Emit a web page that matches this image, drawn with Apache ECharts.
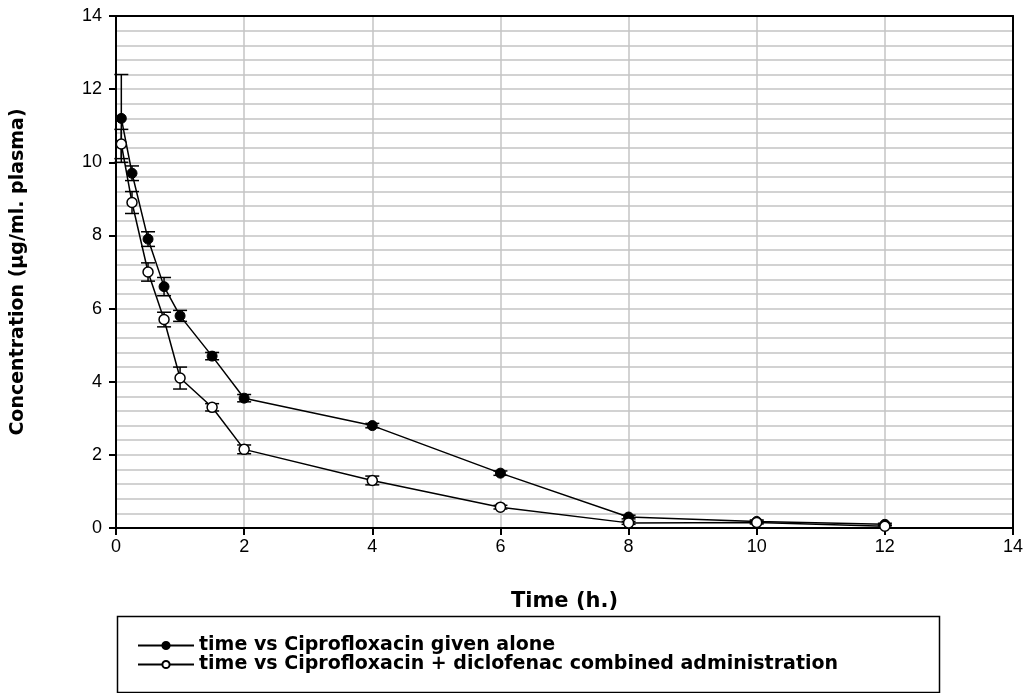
<!DOCTYPE html>
<html>
<head>
<meta charset="utf-8">
<script src="https://cdn.jsdelivr.net/npm/echarts@6/dist/echarts.min.js"></script>
<style>html,body{margin:0;padding:0;background:#fff;}#c{width:1035px;height:693px;}</style>
</head>
<body>
<div id="c"></div>
<script>
var times = [0.083, 0.25, 0.5, 0.75, 1, 1.5, 2, 4, 6, 8, 10, 12];
var aloneMean = [11.2, 9.7, 7.9, 6.6, 5.8, 4.7, 3.55, 2.8, 1.5, 0.3, 0.18, 0.1];
var aloneErr  = [1.2, 0.2, 0.2, 0.25, 0.15, 0.1, 0.1, 0.06, 0.06, 0.05, 0.04, 0.03];
var comboMean = [10.5, 8.9, 7.0, 5.7, 4.1, 3.3, 2.15, 1.3, 0.57, 0.14, 0.15, 0.05];
var comboErr  = [0.4, 0.3, 0.25, 0.2, 0.3, 0.1, 0.12, 0.12, 0.05, 0.04, 0.04, 0.03];
var nameAlone = 'time vs Ciprofloxacin given alone';
var nameCombo = 'time vs Ciprofloxacin + diclofenac combined administration';

function pairs(xs, ys){ return xs.map(function(x,i){ return [x, ys[i]]; }); }
function errData(xs, ys, es){ return xs.map(function(x,i){ return [x, ys[i]-es[i], ys[i]+es[i]]; }); }

function renderErr(params, api){
  var x = api.value(0);
  var lo = api.coord([x, api.value(1)]);
  var hi = api.coord([x, api.value(2)]);
  var w = 7;
  var st = {stroke:'#000', lineWidth:1.5, fill:null};
  return {type:'group', children:[
    {type:'line', shape:{x1:lo[0],y1:lo[1],x2:hi[0],y2:hi[1]}, style:st},
    {type:'line', shape:{x1:lo[0]-w,y1:lo[1],x2:lo[0]+w,y2:lo[1]}, style:st},
    {type:'line', shape:{x1:hi[0]-w,y1:hi[1],x2:hi[0]+w,y2:hi[1]}, style:st}
  ]};
}

var chart = echarts.init(document.getElementById('c'));
var font = 'Liberation Sans, Arial, sans-serif';
var boldFont = 'DejaVu Sans, sans-serif';
var gridLine = {show:true, lineStyle:{color:'#c4c4c4', width:1.5}};
chart.setOption({
  animation:false,
  backgroundColor:'#fff',
  grid:{left:116, right:22, top:16, bottom:165, show:false},
  xAxis:[{
    type:'value', min:0, max:14, interval:2,
    name:'Time (h.)', nameLocation:'middle', nameGap:63,
    nameTextStyle:{fontFamily:boldFont, fontWeight:'bold', fontSize:21, color:'#000'},
    axisLine:{show:true, lineStyle:{color:'#000', width:2}},
    axisTick:{show:true, inside:false, length:7, lineStyle:{color:'#000', width:2}},
    axisLabel:{fontFamily:font, fontSize:18, color:'#000', margin:10},
    splitLine:gridLine, z:3
  },{
    type:'value', position:'top', min:0, max:14, interval:2,
    axisLine:{show:true, onZero:false, lineStyle:{color:'#000', width:2}},
    axisTick:{show:false}, axisLabel:{show:false}, splitLine:{show:false}, z:3
  }],
  yAxis:[{
    type:'value', min:0, max:14, interval:2,
    name:'Concentration (\u00b5g/ml. plasma)', nameLocation:'middle', nameGap:88,
    nameTextStyle:{fontFamily:boldFont, fontWeight:'bold', fontSize:19, color:'#000'},
    axisLine:{show:true, lineStyle:{color:'#000', width:2}},
    axisTick:{show:true, inside:false, length:7, lineStyle:{color:'#000', width:2}},
    axisLabel:{fontFamily:font, fontSize:18, color:'#000', margin:14},
    splitLine:gridLine,
    minorTick:{show:false, splitNumber:5},
    minorSplitLine:gridLine, z:3
  },{
    type:'value', position:'right', min:0, max:14, interval:2,
    axisLine:{show:true, onZero:false, lineStyle:{color:'#000', width:2}},
    axisTick:{show:false}, axisLabel:{show:false}, splitLine:{show:false}, z:3
  }],
  legend:{
    data:[nameAlone, nameCombo], orient:'vertical', left:132, top:631, itemGap:0,
    itemWidth:56, itemHeight:9,
    textStyle:{fontFamily:boldFont, fontWeight:'bold', fontSize:19, lineHeight:19, color:'#000'}
  },
  graphic:[{type:'rect', left:115, top:614, shape:{width:822, height:76}, style:{fill:null, stroke:'#000', lineWidth:1.5}, z:-1}],
  series:[
    {type:'custom', name:'errAlone', renderItem:renderErr, data:errData(times, aloneMean, aloneErr), z:3, encode:{x:0,y:[1,2]}},
    {type:'custom', name:'errCombo', renderItem:renderErr, data:errData(times, comboMean, comboErr), z:3, encode:{x:0,y:[1,2]}},
    {type:'line', name:nameAlone, data:pairs(times, aloneMean), symbol:'circle', symbolSize:10,
      lineStyle:{color:'#000', width:1.5}, itemStyle:{color:'#000', borderColor:'#000', borderWidth:1}, z:4},
    {type:'line', name:nameCombo, data:pairs(times, comboMean), symbol:'circle', symbolSize:10, showAllSymbol:true,
      lineStyle:{color:'#000', width:1.5}, itemStyle:{color:'#fff', borderColor:'#000', borderWidth:1.5}, z:5}
  ]
});
</script>
</body>
</html>
